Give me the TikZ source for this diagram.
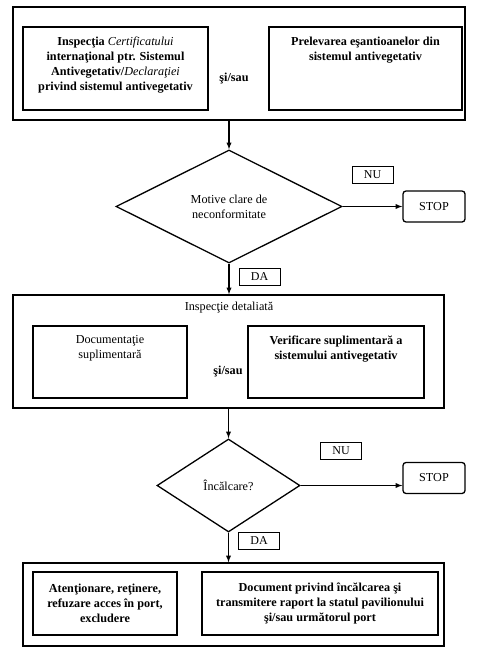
\documentclass[tikz,border=0pt]{standalone}
\usepackage{fontspec}
\setmainfont{Liberation Serif}
\usetikzlibrary{shapes.geometric,positioning}

\begin{document}
\begin{tikzpicture}[x=1pt,y=-1pt,
    box/.style={draw,line width=1.3pt,inner sep=0pt},
    txt/.style={align=center,inner sep=0pt,font=\fontsize{12.2}{15.2}\selectfont},
    btxt/.style={align=center,inner sep=0pt,font=\fontsize{12.2}{15.2}\selectfont\bfseries},
    decide/.style={diamond,draw,line width=1.3pt,inner sep=0pt,align=center,font=\fontsize{12.2}{15.2}\selectfont},
    tag/.style={draw,line width=0.8pt,minimum width=41pt,minimum height=17pt,inner sep=0pt,font=\fontsize{12}{13}\selectfont},
    stopbox/.style={draw,line width=1.3pt,rounded corners=3pt,minimum width=62pt,minimum height=31pt,font=\fontsize{12.2}{14}\selectfont},
    flow/.style={->,>=latex,line width=1.3pt}]
    \useasboundingbox (0,0) rectangle (477,658);

    % first check
    \node[box,minimum width=452pt,minimum height=113pt] (outer1) at (239,63.5) {};
    \node[box,minimum width=185pt,minimum height=83pt] (insp) at (115.5,68.5) {};
    \node[btxt,below=10pt of insp.north] (insptxt) {Inspecţia {\mdseries\itshape Certificatului}\\internaţional ptr. Sistemul\\Antivegetativ/{\mdseries\itshape Declaraţiei}\\privind sistemul antivegetativ};
    \node[box,minimum width=193pt,minimum height=83pt] (prel) at (365.5,68.5) {};
    \node[btxt,below=10pt of prel.north] (preltxt) {Prelevarea eşantioanelor din\\sistemul antivegetativ};
    \node[btxt] (sisau1) at (234,79) {şi/sau};

    \node[decide,minimum width=226pt,minimum height=113pt] (d1) at (229,206.5) {Motive clare de\\neconformitate};
    \node[tag] (nu1) at (372.5,174.5) {NU};
    \node[stopbox] (stop1) at (434,206.5) {STOP};
    \node[tag] (da1) at (259.5,277) {DA};

    % detailed inspection
    \node[box,minimum width=431pt,minimum height=113pt] (outer2) at (228.5,351.5) {};
    \node[txt] (title2) at (229,308) {Inspecţie detaliată};
    \node[box,minimum width=154pt,minimum height=72pt] (doc) at (110,362) {};
    \node[txt,below=10pt of doc.north] (doctxt) {Documentaţie\\suplimentară};
    \node[box,minimum width=176pt,minimum height=72pt] (verif) at (336,362) {};
    \node[btxt,below=10pt of verif.north] (veriftxt) {Verificare suplimentară a\\sistemului antivegetativ};
    \node[btxt] (sisau2) at (228,372) {şi/sau};

    \node[decide,minimum width=143pt,minimum height=93pt] (d2) at (228.5,485.5) {Încălcare?};
    \node[tag] (nu2) at (341,451) {NU};
    \node[stopbox] (stop2) at (434,478) {STOP};
    \node[tag] (da2) at (259,541) {DA};

    % outcome
    \node[box,minimum width=421pt,minimum height=83pt] (outer3) at (233.5,604.5) {};
    \node[box,btxt,minimum width=144pt,minimum height=63pt] (act) at (105,603.5) {Atenţionare, reţinere,\\refuzare acces în port,\\excludere};
    \node[box,btxt,minimum width=236pt,minimum height=63pt] (report) at (320,603.5) {Document privind încălcarea şi\\transmitere raport la statul pavilionului\\şi/sau următorul port};

    \draw[flow] (outer1.south -| d1.north) -- (d1.north);
    \draw[flow] (d1.east) -- (stop1.west);
    \draw[flow] (d1.south) -- (d1.south |- outer2.north);
    \draw[flow] (outer2.south) -- (d2.north);
    \draw[flow] (d2.east) -- (d2.east -| stop2.west);
    \draw[flow] (d2.south) -- (d2.south |- outer3.north);
\end{tikzpicture}
\end{document}
